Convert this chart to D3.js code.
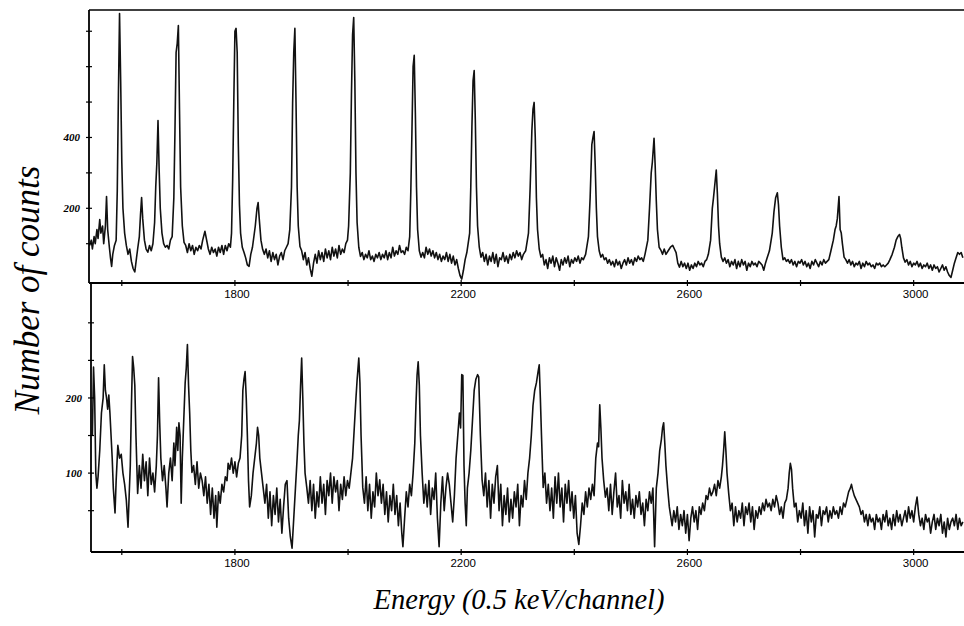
<!DOCTYPE html>
<html>
<head>
<meta charset="utf-8">
<script src="https://cdn.jsdelivr.net/npm/d3@7"></script>
<style>
  body { margin: 0; background: #fff; }
  svg { display: block; }
</style>
</head>
<body>
<div id="container"></div>
<script>
// channel ranges and count ranges of the two panels
var channelRange = [1542, 3089];
var topCountRange = [-11, 760];
var bottomCountRange = [-5, 353];

var xTicks = [1600, 1800, 2000, 2200, 2400, 2600, 2800, 3000];
var xTickLabels = [1800, 2200, 2600, 3000];
var topYTicks = [100, 200, 300, 400, 500, 600, 700];
var topYTickLabels = [200, 400];
var bottomYTicks = [50, 100, 150, 200, 250, 300];
var bottomYTickLabels = [100, 200];

var yTitle = "Number of counts";
var xTitle = "Energy (0.5 keV/channel)";

// upper spectrum, [channel, counts]
var topSpectrum = [
  [1543,95],[1546,110],[1548,85],[1551,120],[1553,100],[1556,140],[1558,115],[1561,168],[1563,130],[1566,150],
  [1568,100],[1571,150],[1573,233],[1575,140],[1578,90],[1580,60],[1582,36],[1584,70],[1587,95],[1590,110],
  [1592,250],[1594,520],[1596,750],[1598,560],[1600,330],[1602,200],[1605,130],[1608,95],
  [1611,70],[1614,85],[1617,50],[1620,30],[1623,20],[1626,60],[1628,85],
  [1631,120],[1633,180],[1635,230],[1637,170],[1640,110],[1643,85],[1646,76],[1649,95],[1652,80],[1655,100],
  [1658,160],[1660,260],[1662,330],[1664,448],[1666,310],[1668,200],[1671,130],[1674,100],[1677,90],[1680,95],[1683,85],[1686,110],[1689,120],
  [1692,230],[1694,420],[1696,640],[1698,666],[1700,716],[1702,480],[1704,260],[1707,150],[1710,104],
  [1713,95],[1716,75],[1719,100],[1722,80],[1725,95],[1728,70],[1731,90],[1734,80],[1737,95],[1740,85],[1743,110],[1747,135],
  [1750,110],[1753,85],[1756,70],[1759,90],[1762,75],[1765,85],[1768,65],[1771,90],[1774,75],[1777,95],[1780,70],[1783,95],[1786,80],[1789,100],[1792,90],
  [1794,130],[1796,280],[1798,500],[1800,700],[1802,708],[1804,640],[1806,380],[1808,210],[1810,130],[1813,90],[1816,76],[1819,60],[1822,40],[1825,36],[1828,70],[1831,90],
  [1836,150],[1839,200],[1841,216],[1843,170],[1846,110],[1849,84],[1852,70],[1855,85],[1858,60],[1861,80],[1864,50],[1867,75],[1870,55],[1873,70],[1876,40],[1879,65],[1882,75],[1885,55],[1888,80],[1891,90],[1894,100],
  [1897,140],[1900,260],[1902,496],[1904,640],[1906,708],[1908,500],[1910,260],[1912,150],[1915,92],
  [1918,80],[1921,55],[1924,75],[1927,40],[1930,60],[1933,30],[1936,8],[1939,45],[1942,70],[1945,45],[1948,80],[1951,55],[1954,75],[1957,50],[1960,85],[1963,60],[1966,80],[1969,55],[1972,90],[1975,65],[1978,85],[1981,60],[1984,95],[1987,70],[1990,85],[1993,75],[1996,100],[1999,110],
  [2001,150],[2004,300],[2006,520],[2008,690],[2010,739],[2012,560],[2014,300],[2016,160],[2019,90],[2022,64],[2025,75],[2028,55],[2031,70],[2034,60],[2037,80],[2040,55],[2043,65],[2046,50],[2049,70],[2052,60],[2055,75],[2058,55],[2061,70],[2064,60],[2067,80],[2070,55],[2073,75],[2076,60],[2079,90],[2082,65],[2085,80],[2088,70],[2091,95],[2094,75],[2097,80],[2100,70],[2103,90],[2106,80],
  [2109,120],[2111,250],[2113,420],[2115,600],[2117,632],[2119,470],[2121,260],[2123,140],[2126,80],[2129,62],[2132,75],[2135,60],[2138,90],[2141,70],[2144,85],[2147,65],[2150,80],[2153,60],[2156,75],[2159,55],[2162,70],[2165,50],[2168,65],
  [2171,55],[2174,75],[2177,50],[2180,70],[2183,45],[2186,65],[2189,40],[2192,55],[2195,30],[2198,10],[2201,0],[2204,25],[2207,55],[2210,75],
  [2215,130],[2217,260],[2219,430],[2221,560],[2223,589],[2225,450],[2227,260],[2229,150],[2232,90],[2235,62],[2238,75],[2241,50],[2244,70],[2247,40],[2250,65],[2253,50],[2256,75],[2259,45],[2262,70],[2265,35],[2268,60],[2271,55],[2274,75],[2277,50],[2280,65],[2283,45],[2286,70],[2289,55],[2292,75],[2295,60],[2298,80],[2301,65],[2304,75],[2307,55],[2310,70],[2314,80],
  [2319,130],[2322,260],[2325,420],[2327,480],[2329,499],[2331,400],[2333,230],[2335,140],[2338,85],[2341,62],[2344,70],[2347,40],[2350,55],[2353,30],[2356,60],[2359,45],[2362,65],[2365,35],[2368,60],[2371,45],[2374,25],[2377,55],[2380,40],[2383,60],[2386,45],[2389,65],[2392,35],[2395,55],[2398,45],[2401,60],[2404,50],[2407,65],[2410,45],[2413,60],[2416,55],[2420,70],
  [2425,120],[2428,230],[2431,380],[2433,400],[2435,417],[2437,320],[2439,200],[2441,120],[2444,80],[2447,62],[2450,70],[2453,55],[2456,60],[2459,45],[2462,55],[2465,40],[2468,50],[2471,35],[2474,55],[2477,40],[2480,50],[2483,30],[2486,45],[2489,55],[2492,40],[2495,60],[2498,45],[2501,55],[2504,40],[2507,60],[2510,50],[2513,65],[2516,55],[2519,60],[2522,50],[2525,70],
  [2530,110],[2533,200],[2536,300],[2538,330],[2541,398],[2543,320],[2545,220],[2547,140],[2550,90],[2553,82],[2556,70],[2559,85],[2562,70],[2566,80],[2570,90],[2574,95],[2577,85],[2580,75],[2583,45],[2586,34],[2589,50],[2592,35],[2595,45],[2598,30],[2601,45],[2604,25],[2607,40],[2610,30],[2613,45],[2616,35],[2619,50],[2622,40],[2625,45],[2628,35],[2631,50],[2634,55],[2637,70],
  [2641,110],[2644,200],[2646,228],[2648,260],[2651,308],[2653,240],[2655,150],[2657,100],[2660,62],[2663,50],[2666,60],[2669,45],[2672,55],[2675,35],[2678,50],[2681,40],[2684,55],[2687,30],[2690,50],[2693,35],[2696,55],[2699,40],[2702,50],[2705,25],[2708,45],[2711,35],[2714,50],[2717,40],[2720,45],[2723,35],[2726,50],[2729,45],[2732,40],[2735,25],[2738,45],[2741,60],[2745,80],
  [2750,130],[2753,190],[2756,230],[2759,244],[2761,210],[2763,150],[2766,90],[2769,55],[2772,60],[2775,50],[2778,55],[2781,45],[2784,55],[2787,40],[2790,50],[2793,35],[2796,50],[2799,45],[2802,55],[2805,40],[2808,50],[2811,35],[2814,45],[2817,30],[2820,50],[2823,40],[2826,55],[2829,45],[2832,35],[2835,50],[2838,40],[2841,55],[2844,45],[2847,50],[2850,55],[2853,75],
  [2858,110],[2861,140],[2863,150],[2865,170],[2868,233],[2870,140],[2872,130],[2874,100],[2877,62],[2880,55],[2883,45],[2886,55],[2889,40],[2892,50],[2895,35],[2898,45],[2901,40],[2904,50],[2907,30],[2910,45],[2913,35],[2916,50],[2919,40],[2922,45],[2925,35],[2928,40],[2931,30],[2934,45],[2937,40],[2940,45],[2943,35],[2946,40],[2949,35],[2952,40],[2955,45],[2958,55],[2962,70],
  [2966,90],[2969,110],[2972,120],[2975,126],[2977,115],[2979,90],[2982,60],[2985,48],[2988,55],[2991,40],[2994,50],[2997,35],[3000,45],[3003,40],[3006,50],[3009,35],[3012,45],[3015,30],[3018,40],[3021,35],[3024,45],[3027,30],[3030,40],[3033,25],[3036,40],[3039,30],[3042,35],[3045,20],
  [3048,30],[3051,40],[3054,25],[3057,35],[3060,20],[3063,10],[3066,5],[3069,25],[3072,45],[3075,60],[3078,75],[3081,70],[3084,75],[3087,60]
];

// lower spectrum, [channel, counts]
var bottomSpectrum = [
  [1548,150],[1550,241],[1552,200],[1554,100],[1556,80],[1558,95],[1561,130],[1564,180],[1567,200],[1569,244],[1571,210],[1573,200],[1575,185],[1577,204],[1579,180],[1581,150],[1583,120],[1585,80],[1588,47],[1590,90],[1593,137],[1596,120],[1599,125],[1602,100],[1605,85],[1608,64],[1611,28],[1613,70],[1615,110],
  [1617,190],[1619,255],[1621,240],[1623,217],[1625,150],[1628,73],[1631,110],[1634,80],[1637,125],[1640,90],[1643,115],[1646,70],[1649,120],[1652,85],[1655,100],[1658,75],[1661,110],
  [1663,150],[1665,227],[1667,167],[1669,120],[1672,90],[1675,110],[1678,80],[1680,55],[1683,100],[1686,120],[1689,90],[1692,140],[1694,110],[1697,161],[1699,130],[1701,167],[1703,150],[1705,60],[1707,120],[1709,160],[1712,220],
  [1714,240],[1716,271],[1718,217],[1720,180],[1722,130],[1724,101],[1727,110],[1730,85],[1733,115],[1736,80],[1739,100],[1742,90],[1745,70],[1748,95],[1751,60],[1754,85],[1757,45],[1760,80],[1763,40],[1766,70],[1768,28],[1771,75],[1774,60],[1777,85],[1780,75],[1783,95],[1786,90],[1788,113],[1791,105],[1794,120],[1797,100],[1800,115],[1803,95],[1806,113],[1809,120],
  [1812,150],[1814,210],[1816,225],[1818,235],[1820,200],[1822,150],[1824,90],[1826,55],[1829,70],[1832,100],[1835,120],[1838,140],[1840,161],[1842,150],[1844,120],[1847,100],[1850,80],[1853,60],[1856,85],[1859,40],[1862,75],[1865,30],[1868,70],[1871,45],[1874,80],[1877,35],[1880,65],[1883,20],[1886,55],[1889,85],[1892,90],[1895,40],[1898,15],[1901,0],[1904,40],[1907,80],[1910,120],
  [1912,150],[1914,170],[1916,215],[1918,253],[1920,200],[1922,140],[1924,100],[1927,81],[1930,60],[1933,90],[1936,50],[1939,85],[1942,40],[1945,75],[1948,55],[1951,95],[1954,60],[1957,85],[1960,45],[1963,90],[1966,70],[1969,100],[1972,60],[1975,95],[1978,75],[1981,90],[1984,50],[1987,85],[1990,65],[1993,95],[1996,70],[1999,90],[2002,80],[2005,100],[2008,120],
  [2011,160],[2014,200],[2016,224],[2019,253],[2021,220],[2023,150],[2026,81],[2029,60],[2032,95],[2035,50],[2038,85],[2041,40],[2044,75],[2047,55],[2050,100],[2053,70],[2056,91],[2059,60],[2062,85],[2065,45],[2068,75],[2071,35],[2074,70],[2077,50],[2080,85],[2083,45],[2086,70],[2089,30],[2092,60],[2095,20],[2097,2],[2100,40],[2103,75],[2106,55],[2109,85],[2112,70],[2115,100],[2118,140],
  [2120,190],[2122,230],[2124,248],[2126,217],[2128,150],[2131,100],[2134,60],[2137,85],[2140,55],[2143,90],[2146,45],[2149,80],[2152,65],[2155,100],[2158,40],[2161,2],[2164,60],[2167,95],[2170,50],[2173,80],[2176,100],[2179,85],[2182,60],[2185,35],[2188,70],[2191,120],
  [2194,150],[2197,180],[2199,160],[2201,231],[2203,230],[2205,110],[2207,60],[2209,30],[2211,80],
  [2214,100],[2217,130],[2220,170],[2223,210],[2226,225],[2229,231],[2231,228],[2234,150],[2237,91],[2240,70],[2243,100],[2246,55],[2249,90],[2252,40],[2255,85],[2258,60],[2261,95],[2264,110],[2267,50],[2270,85],[2273,30],[2276,70],[2279,45],[2282,80],[2285,35],[2288,65],[2291,40],[2294,75],[2297,55],[2300,85],[2303,30],[2306,70],[2309,55],[2312,90],[2315,65],[2318,100],[2321,120],
  [2324,150],[2327,190],[2330,210],[2333,220],[2336,235],[2338,244],[2340,200],[2342,150],[2345,81],[2348,100],[2351,60],[2354,85],[2357,50],[2360,80],[2363,40],[2366,95],[2369,60],[2372,100],[2375,55],[2378,80],[2381,35],[2384,85],[2387,60],[2390,90],[2393,50],[2396,75],[2399,40],[2402,70],[2405,20],[2408,5],[2411,30],[2414,60],[2417,45],[2420,75],[2423,55],[2426,80],[2429,65],[2432,85],[2435,70],
  [2438,120],[2441,140],[2443,135],[2445,191],[2447,160],[2449,120],[2452,90],[2455,68],[2458,80],[2461,50],[2464,85],[2467,45],[2470,75],[2473,100],[2476,55],[2479,70],[2482,40],[2485,90],[2488,60],[2491,75],[2494,50],[2497,85],[2500,45],[2503,65],[2506,40],[2509,70],[2512,55],[2515,75],[2518,45],[2521,60],[2524,30],[2527,65],[2530,50],[2533,75],[2536,60],[2539,80],[2542,2],[2545,80],[2548,100],
  [2551,130],[2554,145],[2556,160],[2558,167],[2560,140],[2562,110],[2565,80],[2568,55],[2571,40],[2573,30],[2576,50],[2579,35],[2582,55],[2585,25],[2588,45],[2591,30],[2594,50],[2597,20],[2600,45],[2603,10],[2606,40],[2609,55],[2612,35],[2615,50],[2618,25],[2621,55],[2624,45],[2627,60],[2630,50],[2633,70],[2636,65],[2639,80],[2642,70],[2645,75],
  [2648,85],[2651,70],[2654,90],[2657,80],[2660,95],[2662,110],[2664,130],[2666,155],[2668,130],[2670,100],[2673,73],[2676,50],[2679,60],[2682,30],[2685,55],[2688,35],[2691,50],[2694,40],[2697,60],[2700,30],[2703,55],[2706,45],[2709,60],[2712,35],[2715,55],[2718,25],[2721,50],[2724,40],[2727,55],[2730,45],[2733,60],[2736,50],[2739,65],[2742,55],[2745,60],[2748,50],[2751,65],[2754,55],[2757,70],
  [2760,60],[2763,45],[2766,55],[2769,40],[2772,60],[2775,65],[2778,80],[2780,100],[2782,113],[2784,105],[2786,80],[2789,55],[2792,60],[2795,35],[2798,50],[2801,40],[2804,60],[2807,30],[2810,50],[2813,20],[2816,55],[2819,35],[2822,50],[2825,15],[2828,45],[2831,40],[2834,55],[2837,30],[2840,50],[2843,45],[2846,55],[2849,35],[2852,50],[2855,40],[2858,55],[2861,45],[2864,50],
  [2867,40],[2870,55],[2873,45],[2876,60],[2879,55],[2882,65],[2885,75],[2888,80],[2890,85],[2892,78],[2895,70],[2898,65],[2901,60],[2904,55],[2907,45],[2910,50],[2913,35],[2916,45],[2919,30],[2922,45],[2925,35],[2928,40],[2931,25],[2934,45],[2937,35],[2940,40],[2943,25],[2946,45],[2949,35],[2952,50],[2955,30],[2958,40],[2961,25],[2964,45],[2967,30],[2970,50],[2973,35],[2976,45],[2979,30],[2982,40],[2985,50],[2988,35],[2991,55],[2994,40],[2997,50],[3000,35],[3003,55],[3006,68],[3009,45],[3012,30],[3015,40],[3018,25],[3021,45],[3024,35],[3027,40],[3030,20],[3033,35],[3036,45],[3039,25],[3042,40],[3045,30],[3048,45],[3051,20],[3054,35],[3057,15],[3060,40],[3063,25],[3066,35],[3069,40],[3072,30],[3075,45],[3078,25],[3081,40],[3084,30],[3087,35]
];

var Chart = {
    WIDTH: 964,
    HEIGHT: 626,
    X_LEFT: 89,
    X_LEFT_BOTTOM: 91,
    X_RIGHT: 964,
    TOP_Y: 10,
    MID_Y: 283,
    BOTTOM_Y: 552,
    TICK: 3
};

var svg = d3.select("#container").append("svg")
        .attr("width", Chart.WIDTH)
        .attr("height", Chart.HEIGHT);

var x = d3.scaleLinear().domain(channelRange).range([Chart.X_LEFT, Chart.X_RIGHT]);
var yTop = d3.scaleLinear().domain(topCountRange).range([Chart.MID_Y, Chart.TOP_Y]);
var yBottom = d3.scaleLinear().domain(bottomCountRange).range([Chart.BOTTOM_Y, Chart.MID_Y]);

// clip paths so the traces stay inside their panels
var defs = svg.append("defs");
defs.append("clipPath").attr("id", "clipTop").append("rect")
        .attr("x", Chart.X_LEFT).attr("y", Chart.TOP_Y)
        .attr("width", Chart.X_RIGHT - Chart.X_LEFT).attr("height", Chart.MID_Y - Chart.TOP_Y);
defs.append("clipPath").attr("id", "clipBottom").append("rect")
        .attr("x", Chart.X_LEFT_BOTTOM).attr("y", Chart.MID_Y)
        .attr("width", Chart.X_RIGHT - Chart.X_LEFT_BOTTOM).attr("height", Chart.BOTTOM_Y - Chart.MID_Y);

drawSpectrum(topSpectrum, yTop, "clipTop");
drawSpectrum(bottomSpectrum, yBottom, "clipBottom");

// frame lines
svg.append("line")   // top border
        .attr("x1", Chart.X_LEFT).attr("x2", Chart.X_RIGHT)
        .attr("y1", Chart.TOP_Y).attr("y2", Chart.TOP_Y)
        .style("stroke", "black").style("stroke-width", 1.6);

drawXAxis(Chart.MID_Y, Chart.X_LEFT);
drawXAxis(Chart.BOTTOM_Y, Chart.X_LEFT_BOTTOM);
drawYAxis(yTop, Chart.X_LEFT, Chart.TOP_Y, Chart.MID_Y, topYTicks, topYTickLabels);
drawYAxis(yBottom, Chart.X_LEFT_BOTTOM, Chart.MID_Y, Chart.BOTTOM_Y, bottomYTicks, bottomYTickLabels);

// axis titles
svg.append("text")
        .attr("transform", "translate(39,290) rotate(-90)")
        .attr("text-anchor", "middle")
        .style("font-family", "'Liberation Serif', 'DejaVu Serif', serif")
        .style("font-style", "italic")
        .style("font-size", "35px")
        .text(yTitle);

svg.append("text")
        .attr("x", 519)
        .attr("y", 609)
        .attr("text-anchor", "middle")
        .style("font-family", "'Liberation Serif', 'DejaVu Serif', serif")
        .style("font-style", "italic")
        .style("font-size", "28.5px")
        .text(xTitle);

function drawSpectrum(points, y, clipId) {
    var line = d3.line()
            .x(function (d) { return x(d[0]); })
            .y(function (d) { return y(d[1]); });
    svg.append("path")
            .datum(points)
            .attr("clip-path", "url(#" + clipId + ")")
            .attr("d", line)
            .style("fill", "none")
            .style("stroke", "#111")
            .style("stroke-width", 1.6)
            .style("stroke-linejoin", "round");
}

function drawXAxis(yPos, xStart) {
    var g = svg.append("g");
    g.append("line")
            .attr("x1", xStart).attr("x2", Chart.X_RIGHT)
            .attr("y1", yPos).attr("y2", yPos)
            .style("stroke", "black").style("stroke-width", 1.8);
    g.selectAll("line.tick").data(xTicks).enter().append("line")
            .attr("class", "tick")
            .attr("x1", function (d) { return x(d); })
            .attr("x2", function (d) { return x(d); })
            .attr("y1", yPos - Chart.TICK).attr("y2", yPos + Chart.TICK)
            .style("stroke", "black").style("stroke-width", 1.2);
    g.selectAll("text").data(xTickLabels).enter().append("text")
            .attr("x", function (d) { return x(d) + 2; })
            .attr("y", yPos + 15)
            .attr("text-anchor", "middle")
            .style("font-family", "'Liberation Sans', Arial, sans-serif")
            .style("font-size", "11.5px")
            .text(function (d) { return d; });
}

function drawYAxis(y, xPos, y0, y1, ticks, labels) {
    var g = svg.append("g");
    g.append("line")
            .attr("x1", xPos).attr("x2", xPos)
            .attr("y1", y0).attr("y2", y1)
            .style("stroke", "black").style("stroke-width", 1.8);
    g.selectAll("line.tick").data(ticks).enter().append("line")
            .attr("class", "tick")
            .attr("x1", xPos - Chart.TICK).attr("x2", xPos + Chart.TICK)
            .attr("y1", function (d) { return y(d); })
            .attr("y2", function (d) { return y(d); })
            .style("stroke", "black").style("stroke-width", 1.2);
    g.selectAll("text").data(labels).enter().append("text")
            .attr("x", xPos - 9)
            .attr("y", function (d) { return y(d) + 4; })
            .attr("text-anchor", "end")
            .style("font-family", "'Liberation Serif', serif")
            .style("font-style", "italic")
            .style("font-weight", "bold")
            .style("font-size", "11px")
            .text(function (d) { return d; });
}
</script>
</body>
</html>
